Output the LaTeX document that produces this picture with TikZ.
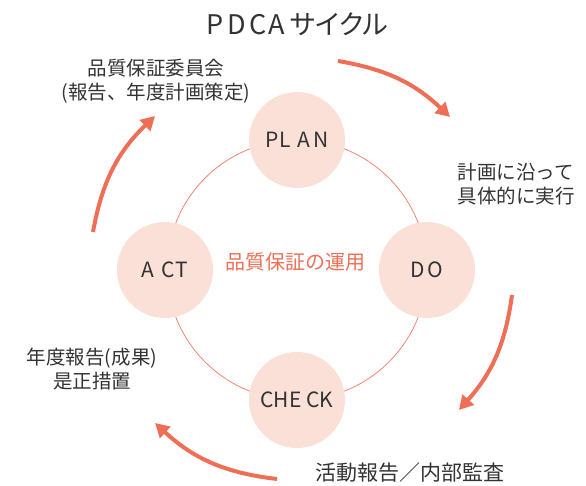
\documentclass[tikz,border=0pt]{standalone}
\usepackage{fontspec}
\setmainfont{Noto Sans CJK JP}
\newfontfamily\titlefont{Noto Sans CJK JP}[RawFeature=+palt]
\usetikzlibrary{arrows.meta}
\definecolor{cfill}{HTML}{FBE0D8}
\definecolor{cline}{HTML}{EF8470}
\definecolor{carrow}{HTML}{EE6F56}
\definecolor{ctext}{HTML}{333333}
\tikzset{
  phase/.style={circle,fill=cfill,minimum size=96pt,inner sep=0pt,text=ctext,font=\fontsize{21}{21}\selectfont},
  lbl/.style={text=ctext,align=center,font=\fontsize{19.5}{24}\selectfont,inner sep=0pt},
  cyc/.style={draw=carrow,line width=4pt,-{Triangle[width=15pt,length=14pt]}}
}
\begin{document}
\begin{tikzpicture}[x=1pt,y=-1pt]
\useasboundingbox (0,0) rectangle (586,485);
\coordinate (ctr) at (297,270);
\draw[cline,line width=0.8pt] (ctr) circle[radius=130pt];
\node[phase] (plan) at (297,140) {P\kern1pt L\kern6pt A\kern3pt N};
\node[phase] (do) at (427,270) {D\kern2pt O};
\node[phase] (act) at (165,270) {A\kern7pt C\kern1pt T};
\node[phase] (check) at (297,400) {CHE\kern5pt CK};
\node[text=carrow,font=\fontsize{20}{20}\selectfont,inner sep=0pt] (core) at (295,262) {品質保証の運用};
\node[text=ctext,font=\titlefont\fontsize{27}{27}\selectfont,inner sep=0pt] (title) at (297,24) {P\kern4pt D\kern4pt C\kern1pt A\kern6pt サイクル};
\node[lbl] (l1) at (156,81) {品質保証委員会\\(報告、年度計画策定)};
\node[lbl] (l2) at (516,184) {計画に沿って\\具体的に実行};
\node[lbl] (l3) at (92,369) {年度報告(成果)\\是正措置};
\node[lbl,font=\fontsize{21}{24}\selectfont] (l4) at (410,473) {活動報告／内部監査};
\coordinate (a1s) at (338,61); \coordinate (a1e) at (450,117);
\coordinate (a2s) at (512,295); \coordinate (a2e) at (459,410);
\coordinate (a3s) at (277,479); \coordinate (a3e) at (155,423);
\coordinate (a4s) at (93,232); \coordinate (a4e) at (155,116);
\draw[cyc] (a1s) to[bend left=17] (a1e);
\draw[cyc] (a2s) to[bend left=17] (a2e);
\draw[cyc] (a3s) to[bend left=18] (a3e);
\draw[cyc] (a4s) to[bend left=18] (a4e);
\end{tikzpicture}
\end{document}
